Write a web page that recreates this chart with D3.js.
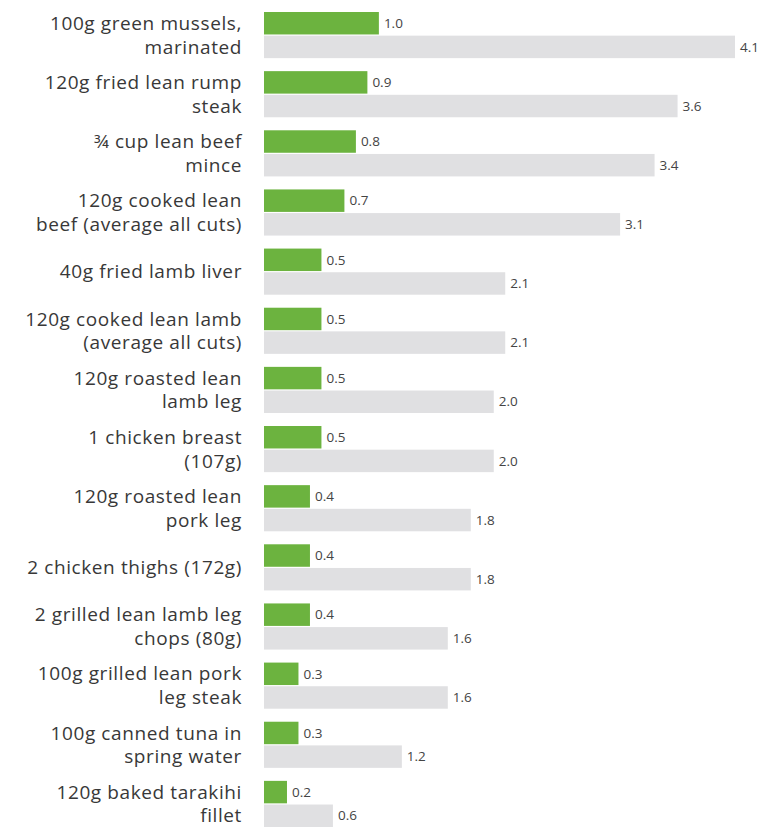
<!DOCTYPE html>
<html>
<head>
<meta charset="utf-8">
<script src="https://cdn.jsdelivr.net/npm/d3@7"></script>
<style>
  body { margin: 0; background: #fff; }
  .label { font-family: "Open Sans", sans-serif; font-size: 19px; fill: #383838; letter-spacing: 0.6px; }
  .value { font-family: "Open Sans", sans-serif; font-size: 13.5px; fill: #444; }
</style>
</head>
<body>
<div id="chart"></div>
<script>
var svgWidth = 761;
var svgHeight = 828;

// food labels, one entry per line of text
var foods = [
    ["100g green mussels,", "marinated"],
    ["120g fried lean rump", "steak"],
    ["\u00BE cup lean beef", "mince"],
    ["120g cooked lean", "beef (average all cuts)"],
    ["40g fried lamb liver"],
    ["120g cooked lean lamb", "(average all cuts)"],
    ["120g roasted lean", "lamb leg"],
    ["1 chicken breast", "(107g)"],
    ["120g roasted lean", "pork leg"],
    ["2 chicken thighs (172g)"],
    ["2 grilled lean lamb leg", "chops (80g)"],
    ["100g grilled lean pork", "leg steak"],
    ["100g canned tuna in", "spring water"],
    ["120g baked tarakihi", "fillet"]
];

var greenValues = [1.0, 0.9, 0.8, 0.7, 0.5, 0.5, 0.5, 0.5, 0.4, 0.4, 0.4, 0.3, 0.3, 0.2];
var greyValues = [4.1, 3.6, 3.4, 3.1, 2.1, 2.1, 2.0, 2.0, 1.8, 1.8, 1.6, 1.6, 1.2, 0.6];

var rows = foods.map(function(f, i) {
    return { id: i, lines: f, green: greenValues[i], grey: greyValues[i] };
});

var svg = d3.select("#chart")
    .append("svg")
    .attr("width", svgWidth)
    .attr("height", svgHeight);

// x scale for bar length
var xScale = d3.scaleLinear()
    .domain([0, d3.max(greyValues)])
    .range([264, 735]);

// one band per food, each band holds the green + grey pair
var yScale = d3.scaleBand()
    .domain(rows.map(d => d.id))
    .range([12, 827])
    .paddingInner(0.22)
    .paddingOuter(0);

var sub = d3.scaleBand()
    .domain(["green", "grey"])
    .range([0, yScale.bandwidth()])
    .paddingInner(0.05);

var colors = { green: "#6cb33f", grey: "#e0e0e2" };

var groups = svg.selectAll(".row")
    .data(rows)
    .enter()
    .append("g")
    .attr("class", "row")
    .attr("transform", d => `translate(0, ${yScale(d.id)})`);

["green", "grey"].forEach(function(key) {
    groups.append("rect")
        .attr("x", xScale(0))
        .attr("y", sub(key))
        .attr("width", d => xScale(d[key]) - xScale(0))
        .attr("height", sub.bandwidth())
        .attr("fill", colors[key]);

    groups.append("text")
        .attr("class", "value")
        .attr("x", d => xScale(d[key]) + 5)
        .attr("y", sub(key) + sub.bandwidth() / 2)
        .attr("dy", "0.35em")
        .text(d => d3.format(".1f")(d[key]));
});

// food labels, right aligned, lines centred on the bars
groups.each(function(d) {
    var g = d3.select(this);
    var n = d.lines.length;
    d.lines.forEach(function(line, j) {
        var yMid;
        if (n === 1) {
            yMid = yScale.bandwidth() / 2;
        } else {
            yMid = sub(j === 0 ? "green" : "grey") + sub.bandwidth() / 2;
        }
        g.append("text")
            .attr("class", "label")
            .attr("x", 242)
            .attr("y", yMid)
            .attr("dy", "0.35em")
            .attr("text-anchor", "end")
            .text(line);
    });
});
</script>
</body>
</html>
